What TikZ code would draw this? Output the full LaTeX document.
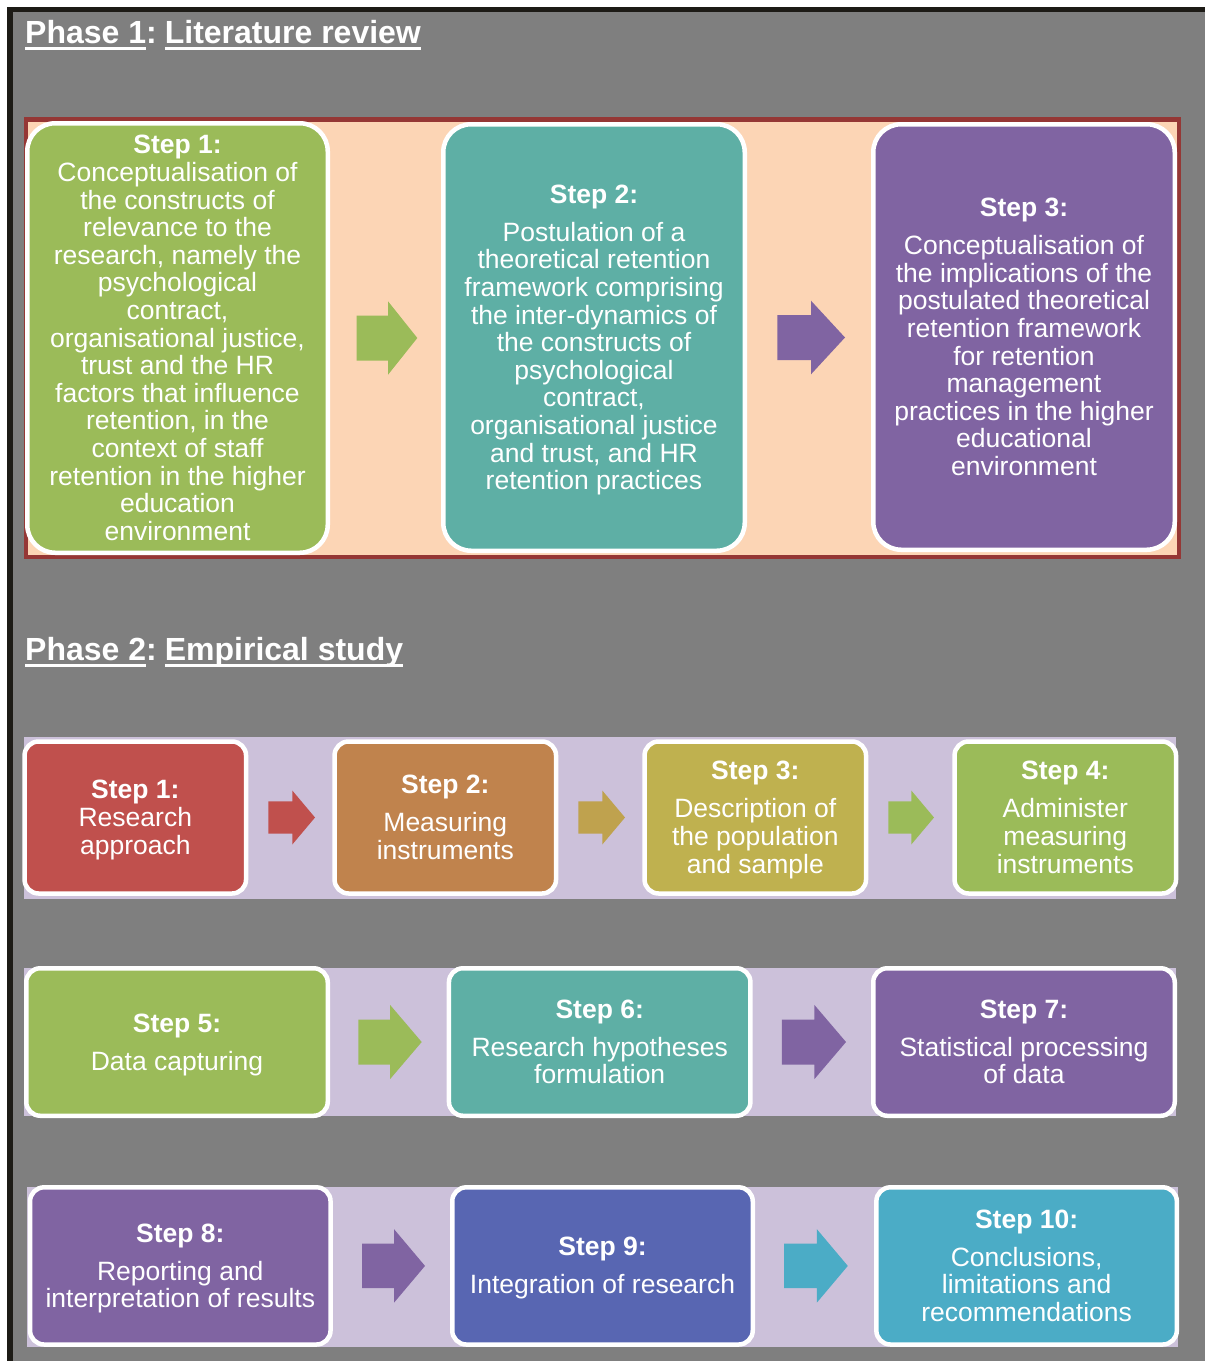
\documentclass[tikz,border=0pt]{standalone}
\usepackage{fontspec}
\setmainfont{Liberation Sans}
\usetikzlibrary{calc}

\definecolor{framedark}{HTML}{1D1B16}
\definecolor{panelgray}{HTML}{7F7F7F}
\definecolor{peach}{HTML}{FCD5B5}
\definecolor{panelred}{HTML}{953735}
\definecolor{lavender}{HTML}{CCC1DA}
\definecolor{cgreen}{HTML}{9BBB59}
\definecolor{cteal}{HTML}{5EAFA5}
\definecolor{cpurple}{HTML}{8064A2}
\definecolor{cred}{HTML}{C0504D}
\definecolor{corange}{HTML}{C0834D}
\definecolor{colive}{HTML}{BFB14F}
\definecolor{cgold}{HTML}{BFA24E}
\definecolor{cblue}{HTML}{5866B2}
\definecolor{ccyan}{HTML}{4BACC6}

% step label in bold, optional gap, then the description
\newcommand\steptext[3]{\rule{0pt}{24pt}\textbf{#1}\\[#2]#3\rule[-6pt]{0pt}{6pt}}
% underlined heading word
\newcommand\hdrword[1]{\setbox0\hbox{#1}\rlap{\rule[-6.5pt]{\wd0}{3pt}}\box0}
% block arrow between two boxes:
% colour, from, to, start gap, tip gap, head length, body half-height, head half-height
\newcommand\flowarrow[8]{%
  \fill[flow, #1] let \p1=(#2.east), \p2=(#3.west) in
    (\x1+#4,\y1+#7) -- (\x2-#5-#6,\y1+#7) -- (\x2-#5-#6,\y1+#8) -- (\x2-#5,\y1)
    -- (\x2-#5-#6,\y1-#8) -- (\x2-#5-#6,\y1-#7) -- (\x1+#4,\y1-#7) -- cycle;}

\begin{document}
\begin{tikzpicture}[x=1pt,y=-1pt,
  stepbox/.style={draw=white, line width=4.5pt, inner sep=0pt, outer sep=0pt,
    text=white, align=center, font=\fontsize{26.5}{27.6}\selectfont},
  bigbox/.style={stepbox, rounded corners=28pt},
  smallbox/.style={stepbox, rounded corners=14pt},
  heading/.style={anchor=base west, inner sep=0pt, text=white,
    font=\fontsize{32}{36}\selectfont\bfseries},
  flow/.style={draw=none}
]
\useasboundingbox (0,0) rectangle (1205,1361);

% page frame
\fill[framedark] (7,7) rectangle (1205,1361);
\fill[panelgray] (12.5,11.5) rectangle (1205,1361);

% headings
\node[heading] (h1) at (25,43.5) {\hdrword{Phase 1}:\hspace{0.25em}\hdrword{Literature review}};
\node[heading] (h2) at (25,660) {\hdrword{Phase 2}:\hspace{0.25em}\hdrword{Empirical study}};

% phase 1 panel
\draw[fill=peach, draw=panelred, line width=4.3pt] (26.15,119.45) rectangle (1178.85,556.85);

% phase 2 bands
\fill[lavender] (24,737.3) rectangle (1176,899.3);
\fill[lavender] (24,968) rectangle (1176,1116);
\fill[lavender] (27,1187) rectangle (1178,1347);

% phase 1 steps
\node[bigbox, fill=cgreen, minimum width=300.5pt, minimum height=429.5pt] (p1s1) at (177.5,338)
  {\steptext{Step 1:}{0pt}{Conceptualisation of\\the constructs of\\relevance to the\\research, namely the\\psychological\\contract,\\organisational justice,\\trust and the HR\\factors that influence\\retention, in the\\context of staff\\retention in the higher\\education\\environment}};
\node[bigbox, fill=cteal, minimum width=301.5pt, minimum height=426.5pt] (p1s2) at (594,337.5)
  {\steptext{Step 2:}{10.4pt}{Postulation of a\\theoretical retention\\framework comprising\\the inter-dynamics of\\the constructs of\\psychological\\contract,\\organisational justice\\and trust, and HR\\retention practices}};
\node[bigbox, fill=cpurple, minimum width=301.5pt, minimum height=425.5pt] (p1s3) at (1024,337)
  {\steptext{Step 3:}{10.4pt}{Conceptualisation of\\the implications of the\\postulated theoretical\\retention framework\\for retention\\management\\practices in the higher\\educational\\environment}};

\flowarrow{cgreen}{p1s1}{p1s2}{28.95pt}{25.95pt}{29.3pt}{22.5pt}{36.75pt}
\flowarrow{cpurple}{p1s2}{p1s3}{32.55pt}{28.25pt}{34pt}{22.5pt}{36.8pt}

% phase 2, first row
\node[smallbox, fill=cred, minimum width=221.5pt, minimum height=152pt] (s1) at (135.3,817.5)
  {\steptext{Step 1:}{0pt}{Research\\approach}};
\node[smallbox, fill=corange, minimum width=221.5pt, minimum height=152pt] (s2) at (445.3,817.5)
  {\steptext{Step 2:}{10.4pt}{Measuring\\instruments}};
\node[smallbox, fill=colive, minimum width=221.5pt, minimum height=152pt] (s3) at (755.3,817.5)
  {\steptext{Step 3:}{10.4pt}{Description of\\the population\\and sample}};
\node[smallbox, fill=cgreen, minimum width=221.5pt, minimum height=152pt] (s4) at (1065.3,817.5)
  {\steptext{Step 4:}{10.4pt}{Administer\\measuring\\instruments}};

\flowarrow{cred}{s1}{s2}{22.25pt}{19.55pt}{22.7pt}{16.2pt}{27pt}
\flowarrow{cgold}{s2}{s3}{22.25pt}{19.55pt}{22.7pt}{16.2pt}{27pt}
\flowarrow{cgreen}{s3}{s4}{22.25pt}{20.55pt}{22.7pt}{16.2pt}{27pt}

% phase 2, second row
\node[smallbox, fill=cgreen, minimum width=301.5pt, minimum height=147.5pt] (s5) at (177,1042)
  {\steptext{Step 5:}{10.4pt}{Data capturing}};
\node[smallbox, fill=cteal, minimum width=301.5pt, minimum height=147.5pt] (s6) at (599.7,1042)
  {\steptext{Step 6:}{10.4pt}{Research hypotheses\\formulation}};
\node[smallbox, fill=cpurple, minimum width=301.5pt, minimum height=147.5pt] (s7) at (1024,1042)
  {\steptext{Step 7:}{10.4pt}{Statistical processing\\of data}};

\flowarrow{cgreen}{s5}{s6}{30.55pt}{27.25pt}{31.7pt}{22.5pt}{37.2pt}
\flowarrow{cpurple}{s6}{s7}{31.5pt}{27.25pt}{31.7pt}{22.5pt}{37.2pt}

% phase 2, third row
\node[smallbox, fill=cpurple, minimum width=300.5pt, minimum height=157.2pt] (s8) at (180.3,1265.9)
  {\steptext{Step 8:}{10.4pt}{Reporting and\\interpretation of results}};
\node[smallbox, fill=cblue, minimum width=300.5pt, minimum height=157.2pt] (s9) at (602.5,1265.9)
  {\steptext{Step 9:}{10.4pt}{Integration of research}};
\node[smallbox, fill=ccyan, minimum width=300.5pt, minimum height=157.2pt] (s10) at (1026.6,1265.9)
  {\steptext{Step 10:}{10.4pt}{Conclusions,\\limitations and\\recommendations}};

\flowarrow{cpurple}{s8}{s9}{31.5pt}{27.25pt}{31pt}{22.2pt}{36.8pt}
\flowarrow{ccyan}{s9}{s10}{31.25pt}{28.55pt}{31pt}{22.2pt}{36.8pt}

\end{tikzpicture}
\end{document}
